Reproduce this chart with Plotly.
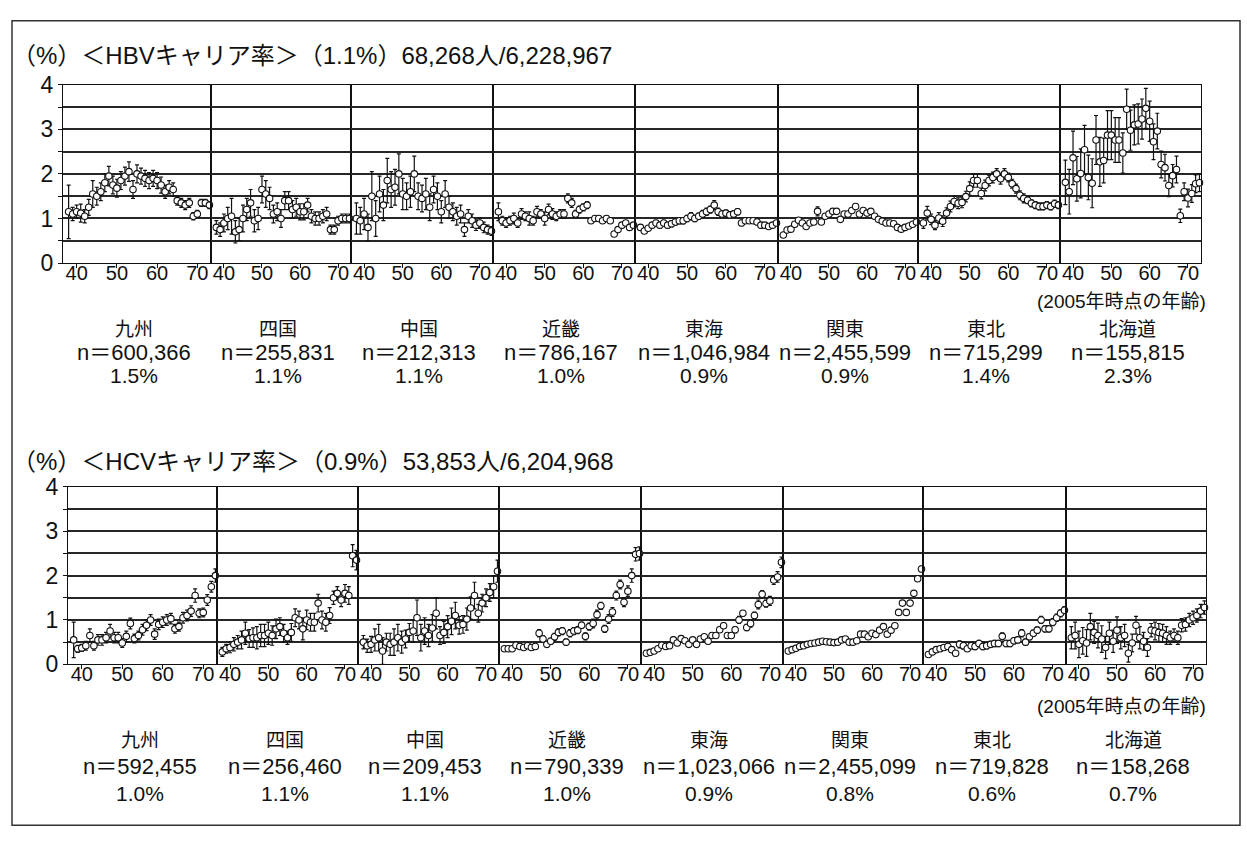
import plotly.graph_objects as go

W, H = 1247, 844

# ---------------- data ----------------
ages = list(range(38, 74))
regions = ["九州", "四国", "中国", "近畿", "東海", "関東", "東北", "北海道"]
x_ticks = [40, 50, 60, 70]
y_ticks = [0, 0.5, 1, 1.5, 2, 2.5, 3, 3.5, 4]
y_ticktext = ["0", "", "1", "", "2", "", "3", "", "4"]

hbv_title = "（%）＜HBVキャリア率＞（1.1%）68,268人/6,228,967"
hcv_title = "（%）＜HCVキャリア率＞（0.9%）53,853人/6,204,968"
age_label = "(2005年時点の年齢)"

hbv_n = ["n＝600,366", "n＝255,831", "n＝212,313", "n＝786,167",
         "n＝1,046,984", "n＝2,455,599", "n＝715,299", "n＝155,815"]
hbv_pct = ["1.5%", "1.1%", "1.1%", "1.0%", "0.9%", "0.9%", "1.4%", "2.3%"]
hcv_n = ["n＝592,455", "n＝256,460", "n＝209,453", "n＝790,339",
         "n＝1,023,066", "n＝2,455,099", "n＝719,828", "n＝158,268"]
hcv_pct = ["1.0%", "1.1%", "1.1%", "1.0%", "0.9%", "0.8%", "0.6%", "0.7%"]

# HBV carrier rate (%) by age, per region
hbv_kyushu = [1.15,1.10,1.15,1.12,1.05,1.25,1.55,1.50,1.60,1.80,1.95,1.75,1.68,1.85,1.95,2.05,1.65,2.00,
              1.95,1.90,1.85,1.90,1.85,1.75,1.60,1.70,1.65,1.40,1.35,1.30,1.35,1.05,1.10,1.35,1.35,1.30]
hbv_kyushu_err = [0.60,0.15,0.15,0.20,0.15,0.18,0.30,0.20,0.20,0.20,0.22,0.20,0.20,0.20,0.20,0.22,0.20,0.20,
                  0.18,0.18,0.18,0.18,0.18,0.18,0.15,0.15,0.15,0.10,0.10,0.10,0.10,0.08,0.08,0.08,0.08,0.08]
hbv_shikoku = [0.80,0.75,0.90,1.00,1.05,0.70,0.75,1.00,1.20,1.35,0.95,1.00,1.65,1.55,1.45,1.10,1.15,1.00,
               1.40,1.40,1.20,1.25,1.15,1.15,1.30,1.05,1.00,1.00,1.05,1.10,0.75,0.75,0.95,1.00,1.00,1.00]
hbv_shikoku_err = [0.15,0.15,0.20,0.25,0.40,0.25,0.25,0.30,0.25,0.30,0.25,0.25,0.30,0.30,0.25,0.20,0.20,0.20,
                   0.20,0.20,0.20,0.20,0.18,0.18,0.15,0.15,0.15,0.15,0.15,0.15,0.10,0.10,0.10,0.10,0.10,0.10]
hbv_chugoku = [1.00,0.95,1.10,0.80,1.50,1.00,1.55,1.30,1.85,1.65,1.70,2.00,1.55,1.50,1.60,2.00,1.50,1.45,
               1.55,1.25,1.65,1.50,1.15,1.55,1.25,1.15,1.05,1.10,0.75,1.05,0.95,0.85,0.90,0.80,0.75,0.72]
hbv_chugoku_err = [0.35,0.30,0.35,0.30,0.55,0.40,0.40,0.35,0.50,0.40,0.40,0.45,0.35,0.30,0.35,0.40,0.30,0.30,
                   0.35,0.30,0.30,0.30,0.25,0.30,0.25,0.20,0.20,0.20,0.15,0.15,0.15,0.12,0.12,0.12,0.10,0.10]
hbv_kinki = [1.15,0.95,0.90,0.95,1.00,0.90,1.10,1.05,1.00,0.95,1.15,1.10,1.00,1.20,1.10,1.05,1.10,1.10,
             1.45,1.35,1.10,1.20,1.25,1.30,0.95,1.00,1.00,0.95,1.00,0.95,0.65,0.75,0.85,0.90,0.80,0.85]
hbv_kinki_err = [0.20,0.10,0.10,0.10,0.12,0.10,0.12,0.10,0.15,0.10,0.12,0.10,0.15,0.12,0.12,0.10,0.10,0.10,
                 0.10,0.10,0.08,0.08,0.08,0.08,0.06,0.06,0.06,0.06,0.06,0.06,0.05,0.05,0.05,0.05,0.05,0.05]
hbv_tokai = [0.80,0.72,0.78,0.85,0.90,0.85,0.90,0.85,0.88,0.92,0.95,0.95,1.00,1.05,1.00,1.05,1.10,1.15,
             1.20,1.30,1.15,1.10,1.12,1.08,1.10,1.15,0.90,0.95,0.95,0.95,0.92,0.85,0.85,0.82,0.85,0.90]
hbv_tokai_err = [0.06,0.05,0.05,0.05,0.06,0.06,0.06,0.06,0.07,0.07,0.07,0.07,0.07,0.08,0.07,0.07,0.08,0.08,
                 0.08,0.10,0.08,0.07,0.07,0.07,0.07,0.07,0.06,0.06,0.06,0.06,0.06,0.05,0.05,0.05,0.05,0.05]
hbv_kanto = [0.63,0.74,0.76,0.87,0.96,0.90,0.82,0.90,0.92,1.16,0.92,1.05,1.10,1.16,1.16,0.98,1.10,1.10,
             1.18,1.27,1.10,1.18,1.12,1.16,1.05,0.98,0.94,0.90,0.90,0.88,0.80,0.76,0.80,0.83,0.87,0.92]
hbv_kanto_err = [0.04,0.04,0.04,0.04,0.04,0.04,0.04,0.04,0.04,0.10,0.04,0.04,0.04,0.04,0.04,0.04,0.04,0.04,
                 0.04,0.05,0.04,0.04,0.04,0.04,0.03,0.03,0.03,0.03,0.03,0.03,0.03,0.03,0.03,0.03,0.03,0.03]
hbv_tohoku = [0.90,1.12,0.98,0.85,1.01,0.94,1.12,1.27,1.38,1.34,1.36,1.49,1.67,1.85,1.85,1.56,1.74,1.85,
              1.92,2.00,1.89,2.00,1.92,1.78,1.67,1.52,1.45,1.41,1.34,1.30,1.27,1.27,1.30,1.27,1.33,1.30]
hbv_tohoku_err = [0.12,0.15,0.12,0.10,0.12,0.12,0.12,0.12,0.12,0.12,0.12,0.12,0.15,0.15,0.15,0.12,0.12,0.12,
                  0.12,0.12,0.12,0.12,0.10,0.10,0.10,0.10,0.10,0.08,0.08,0.08,0.08,0.08,0.08,0.08,0.08,0.08]
hbv_hokkaido = [1.81,1.60,2.36,1.89,2.01,2.54,1.92,1.79,2.76,2.27,2.30,2.87,2.87,2.76,2.76,2.47,3.45,2.98,
                3.10,3.12,3.23,3.47,3.18,2.72,2.96,2.21,2.14,1.74,1.96,2.10,1.06,1.60,1.46,1.56,1.78,1.80]
hbv_hokkaido_err = [0.50,0.50,0.60,0.50,0.55,0.55,0.50,0.55,0.55,0.55,0.50,0.55,0.55,0.50,0.50,0.45,0.45,0.45,
                    0.45,0.45,0.45,0.45,0.45,0.40,0.40,0.30,0.30,0.25,0.25,0.30,0.15,0.20,0.20,0.20,0.20,0.20]

# HCV carrier rate (%) by age, per region
hcv_kyushu = [0.55,0.35,0.37,0.42,0.65,0.42,0.55,0.55,0.60,0.75,0.60,0.60,0.48,0.63,0.92,0.58,0.65,0.78,
              0.88,1.00,0.68,0.90,0.95,1.00,1.03,0.80,0.85,1.05,1.10,1.20,1.55,1.15,1.17,1.45,1.75,2.00]
hcv_kyushu_err = [0.40,0.08,0.08,0.10,0.15,0.10,0.12,0.12,0.12,0.15,0.12,0.12,0.10,0.12,0.12,0.10,0.10,0.12,
                  0.12,0.12,0.12,0.12,0.12,0.12,0.12,0.10,0.10,0.12,0.12,0.12,0.15,0.10,0.10,0.12,0.12,0.15]
hcv_shikoku = [0.28,0.35,0.38,0.45,0.50,0.55,0.70,0.58,0.60,0.60,0.65,0.65,0.70,0.65,0.80,0.85,0.70,0.60,
               0.72,1.05,1.00,0.80,1.00,0.95,0.95,1.38,1.00,0.95,1.10,1.50,1.60,1.45,1.60,1.55,2.45,2.35]
hcv_shikoku_err = [0.10,0.10,0.12,0.15,0.15,0.20,0.25,0.20,0.22,0.25,0.25,0.25,0.25,0.22,0.22,0.20,0.20,0.15,
                   0.20,0.20,0.20,0.25,0.22,0.20,0.20,0.20,0.20,0.20,0.18,0.15,0.15,0.15,0.20,0.20,0.25,0.22]
hcv_chugoku = [0.50,0.42,0.45,0.55,0.60,0.30,0.50,0.45,0.50,0.60,0.50,0.57,0.72,0.75,1.05,0.60,0.75,0.65,
               0.82,1.15,0.65,0.72,0.85,0.97,1.10,0.88,0.90,1.02,1.27,1.55,1.15,1.38,1.50,1.62,1.75,2.10]
hcv_chugoku_err = [0.15,0.15,0.18,0.25,0.30,0.30,0.20,0.25,0.30,0.30,0.25,0.20,0.20,0.25,0.40,0.30,0.30,0.25,
                   0.30,0.35,0.20,0.25,0.25,0.30,0.30,0.20,0.20,0.25,0.25,0.30,0.20,0.20,0.20,0.20,0.25,0.25]
hcv_kinki = [0.35,0.35,0.35,0.43,0.40,0.38,0.42,0.38,0.40,0.70,0.57,0.45,0.52,0.62,0.72,0.75,0.50,0.70,
             0.75,0.77,0.88,0.63,0.85,0.92,1.12,1.32,0.80,1.02,1.18,1.55,1.80,1.40,1.65,2.00,2.48,2.50]
hcv_kinki_err = [0.05,0.05,0.05,0.06,0.06,0.06,0.06,0.06,0.06,0.08,0.07,0.07,0.07,0.08,0.08,0.08,0.07,0.08,
                 0.08,0.08,0.07,0.08,0.08,0.10,0.10,0.08,0.08,0.10,0.10,0.10,0.10,0.10,0.12,0.15,0.15,0.15]
hcv_tokai = [0.25,0.27,0.30,0.35,0.43,0.40,0.42,0.55,0.48,0.58,0.53,0.45,0.55,0.45,0.57,0.62,0.52,0.65,
             0.65,0.78,0.87,0.65,0.65,0.78,1.00,1.15,0.83,0.92,1.10,1.35,1.58,1.37,1.43,1.90,1.97,2.30]
hcv_tokai_err = [0.05,0.04,0.04,0.05,0.05,0.05,0.06,0.05,0.06,0.06,0.05,0.06,0.05,0.06,0.06,0.05,0.06,0.06,
                 0.06,0.06,0.06,0.06,0.06,0.07,0.08,0.06,0.07,0.08,0.08,0.10,0.08,0.08,0.10,0.10,0.12,0.12]
hcv_kanto = [0.30,0.33,0.36,0.40,0.42,0.45,0.47,0.48,0.50,0.52,0.51,0.50,0.49,0.50,0.55,0.57,0.50,0.50,
             0.53,0.68,0.68,0.62,0.70,0.67,0.77,0.85,0.68,0.77,0.87,1.17,1.38,1.17,1.38,1.60,1.93,2.15]
hcv_kanto_err = [0.02,0.02,0.02,0.02,0.02,0.02,0.02,0.02,0.02,0.02,0.02,0.02,0.02,0.02,0.02,0.02,0.02,0.02,
                 0.02,0.03,0.03,0.03,0.03,0.03,0.03,0.03,0.03,0.03,0.03,0.04,0.04,0.04,0.04,0.05,0.05,0.06]
hcv_tohoku = [0.22,0.28,0.33,0.35,0.38,0.40,0.33,0.25,0.45,0.42,0.35,0.42,0.40,0.47,0.40,0.42,0.45,0.47,
              0.47,0.63,0.47,0.47,0.53,0.55,0.70,0.50,0.62,0.70,0.77,1.00,0.80,0.80,0.95,1.05,1.15,1.22]
hcv_tohoku_err = [0.04,0.05,0.05,0.05,0.05,0.06,0.06,0.06,0.08,0.08,0.06,0.07,0.07,0.07,0.07,0.07,0.07,0.07,
                  0.07,0.08,0.07,0.07,0.07,0.07,0.08,0.07,0.07,0.07,0.07,0.08,0.07,0.07,0.08,0.08,0.08,0.08]
hcv_hokkaido = [0.60,0.65,0.45,0.53,0.48,0.85,0.72,0.65,0.57,0.38,0.70,0.52,0.77,0.60,0.65,0.25,0.48,0.88,
                0.60,0.52,0.38,0.77,0.75,0.72,0.70,0.65,0.60,0.65,0.60,0.88,0.90,1.00,1.05,1.10,1.20,1.28]
hcv_hokkaido_err = [0.25,0.30,0.30,0.30,0.30,0.30,0.25,0.28,0.30,0.25,0.25,0.25,0.30,0.25,0.25,0.20,0.20,0.20,
                    0.25,0.20,0.20,0.15,0.20,0.20,0.20,0.20,0.15,0.15,0.15,0.15,0.15,0.15,0.15,0.15,0.15,0.15]

hbv_series = [(hbv_kyushu, hbv_kyushu_err), (hbv_shikoku, hbv_shikoku_err), (hbv_chugoku, hbv_chugoku_err),
              (hbv_kinki, hbv_kinki_err), (hbv_tokai, hbv_tokai_err), (hbv_kanto, hbv_kanto_err),
              (hbv_tohoku, hbv_tohoku_err), (hbv_hokkaido, hbv_hokkaido_err)]
hcv_series = [(hcv_kyushu, hcv_kyushu_err), (hcv_shikoku, hcv_shikoku_err), (hcv_chugoku, hcv_chugoku_err),
              (hcv_kinki, hcv_kinki_err), (hcv_tokai, hcv_tokai_err), (hcv_kanto, hcv_kanto_err),
              (hcv_tohoku, hcv_tohoku_err), (hcv_hokkaido, hcv_hokkaido_err)]

# ---------------- layout geometry (pixels) ----------------
panels = [
    dict(series=hbv_series, bounds=[63, 211, 351, 493, 635, 778, 918, 1060, 1201], top=74, bottom=258,
         title=hbv_title, title_y=44, xlab_y=298, names_y=325, n_y=350, pct_y=374,
         n=hbv_n, pct=hbv_pct),
    dict(series=hcv_series, bounds=[68, 217, 358, 499, 641, 783, 923, 1066, 1206], top=489, bottom=672,
         title=hcv_title, title_y=463, xlab_y=716, names_y=749, n_y=777, pct_y=805,
         n=hcv_n, pct=hcv_pct),
]
X_RANGE = [36.6, 73.4]

FONT = "Liberation Sans, Arial, Noto Sans CJK JP, sans-serif"
JFONT = "Noto Sans CJK JP, sans-serif"
INK = "#111"


def fx(px):
    return px / W


def fy(py):
    return 1 - py / H


fig = go.Figure()
layout = dict(
    width=W, height=H, margin=dict(l=0, r=0, t=0, b=0),
    paper_bgcolor="white", plot_bgcolor="white", showlegend=False,
    font=dict(family=FONT, size=20, color=INK),
)
annotations = []
k = 0
for p, pan in enumerate(panels):
    b = pan["bounds"]
    for i in range(8):
        k += 1
        xa = "x" if k == 1 else f"x{k}"
        ya = "y" if k == 1 else f"y{k}"
        vals, errs = pan["series"][i]
        fig.add_trace(go.Scatter(
            x=ages, y=vals, xaxis=xa, yaxis=ya, mode="markers",
            marker=dict(symbol="circle", size=6.5, color="white", line=dict(color=INK, width=1.1)),
            error_y=dict(type="data", array=errs, color=INK, thickness=1.2, width=2),
            cliponaxis=False, hoverinfo="skip",
        ))
        xkey = "xaxis" if k == 1 else f"xaxis{k}"
        ykey = "yaxis" if k == 1 else f"yaxis{k}"
        layout[xkey] = dict(
            domain=[fx(b[i]), fx(b[i + 1])], anchor=ya, range=X_RANGE,
            tickvals=x_ticks, ticks="outside", ticklen=4, tickcolor=INK, tickwidth=1,
            ticklabelstandoff=-12,
            showgrid=False, zeroline=False, showline=True, mirror=True,
            linecolor=INK, linewidth=1,
            tickfont=dict(family=FONT, size=20, color=INK),
        )
        first = (i == 0)
        layout[ykey] = dict(
            domain=[fy(pan["bottom"]), fy(pan["top"])], anchor=xa, range=[0, 4],
            tickvals=y_ticks, ticktext=y_ticktext, showticklabels=first,
            ticks="outside" if first else "", ticklen=4, tickcolor=INK,
            showgrid=True, gridcolor="#262626", gridwidth=1.6, zeroline=False,
            showline=True, mirror=True, linecolor=INK, linewidth=1,
            tickfont=dict(family=FONT, size=23, color=INK),
        )
        cx = (b[i] + b[i + 1]) / 2 - 3
        annotations.append(dict(x=fx(cx), y=fy(pan["names_y"]), xref="paper", yref="paper",
                                text=regions[i], showarrow=False, xanchor="center", yanchor="middle",
                                font=dict(family=JFONT, size=19, color=INK)))
        annotations.append(dict(x=fx(cx), y=fy(pan["n_y"]), xref="paper", yref="paper",
                                text=pan["n"][i], showarrow=False, xanchor="center", yanchor="middle",
                                font=dict(family=FONT, size=22, color=INK)))
        annotations.append(dict(x=fx(cx), y=fy(pan["pct_y"]), xref="paper", yref="paper",
                                text=pan["pct"][i], showarrow=False, xanchor="center", yanchor="middle",
                                font=dict(family=FONT, size=21, color=INK)))
    annotations.append(dict(x=fx(10), y=fy(pan["title_y"]), xref="paper", yref="paper",
                            text=pan["title"], showarrow=False, xanchor="left", yanchor="middle",
                            font=dict(family=FONT, size=24, color=INK)))
    annotations.append(dict(x=fx(1208), y=fy(pan["xlab_y"]), xref="paper", yref="paper",
                            text=age_label, showarrow=False, xanchor="right", yanchor="middle",
                            font=dict(family=FONT, size=19, color=INK)))

layout["annotations"] = annotations
layout["shapes"] = [dict(type="rect", xref="paper", yref="paper",
                         x0=fx(12), x1=fx(1240), y0=fy(838), y1=fy(8),
                         line=dict(color="#333", width=1.5), fillcolor="rgba(0,0,0,0)")]
fig.update_layout(**layout)
fig.write_html("out.html")
